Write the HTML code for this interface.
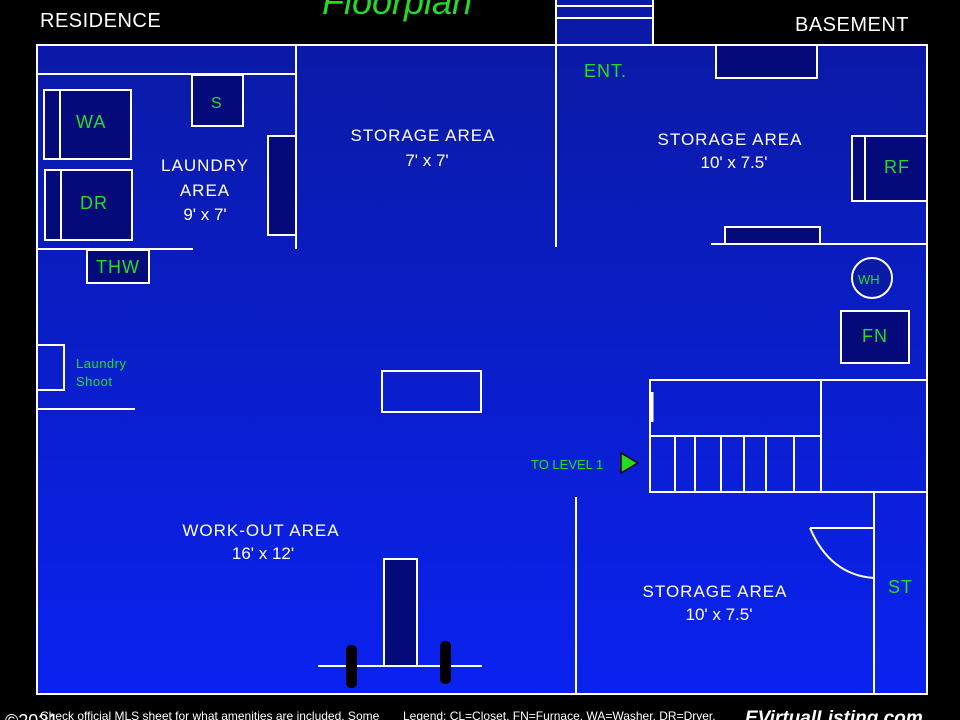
<!DOCTYPE html>
<html><head><meta charset="utf-8"><style>
html,body{margin:0;padding:0;background:#000;width:960px;height:720px;overflow:hidden}
svg{display:block}
text{font-family:"Liberation Sans",sans-serif}
</style></head><body>
<svg width="960" height="720" viewBox="0 0 960 720" xmlns="http://www.w3.org/2000/svg">
<defs>
<linearGradient id="g" x1="0" y1="0" x2="0" y2="1">
<stop offset="0" stop-color="#0a1aa6"/><stop offset="1" stop-color="#0a22f0"/>
</linearGradient>
</defs>
<rect x="0" y="0" width="960" height="720" fill="#000"/>
<rect x="37" y="45" width="890" height="649" fill="url(#g)" stroke="#fff" stroke-width="2"/>
<rect x="556" y="-2" width="97" height="47" fill="#0a1aa6" stroke="#fff" stroke-width="2"/>
<line x1="556" y1="6" x2="653" y2="6" stroke="#fff" stroke-width="2"/>
<line x1="556" y1="18" x2="653" y2="18" stroke="#fff" stroke-width="2"/>
<text x="40" y="27" fill="#fff" font-size="20" letter-spacing="0.5">RESIDENCE</text>
<text x="795" y="31" fill="#fff" font-size="20" letter-spacing="0.5">BASEMENT</text>
<text x="322" y="14" fill="#22dd22" font-size="36" font-style="italic" font-family="Liberation Serif,serif">Floorplan</text>
<g stroke="#fff" stroke-width="2" fill="none">
<line x1="37" y1="74" x2="296" y2="74"/>
<line x1="296" y1="45" x2="296" y2="249"/>
<line x1="556" y1="45" x2="556" y2="247"/>
<line x1="37" y1="249" x2="193" y2="249"/>
<line x1="711" y1="244" x2="927" y2="244"/>
<line x1="37" y1="409" x2="135" y2="409"/>
<line x1="576" y1="497" x2="576" y2="694"/>
<line x1="874" y1="492" x2="874" y2="694"/>
<line x1="810" y1="528" x2="874" y2="528"/>
<path d="M810 528 Q830 575 874 578"/>
</g>
<g stroke="#fff" stroke-width="2" fill="#050a7a">
<rect x="716" y="45" width="101" height="33"/>
<rect x="192" y="75" width="51" height="51"/>
<rect x="44" y="90" width="87" height="69"/>
<rect x="45" y="170" width="87" height="70"/>
<rect x="268" y="136" width="28" height="99"/>
<rect x="87" y="250" width="62" height="33"/>
<rect x="852" y="136" width="75" height="65"/>
<rect x="725" y="227" width="95" height="17"/>
<rect x="841" y="311" width="68" height="52"/>
<rect x="384" y="559" width="33" height="107"/>
</g>
<g stroke="#fff" stroke-width="2" fill="none">
<line x1="60" y1="90" x2="60" y2="159"/>
<line x1="61" y1="170" x2="61" y2="240"/>
<line x1="865" y1="136" x2="865" y2="201"/>
<circle cx="872" cy="278" r="20" fill="#0a1aa6"/>
<rect x="37" y="345" width="27" height="45"/>
<rect x="382" y="371" width="99" height="41"/>
<rect x="650" y="380" width="277" height="112"/>
<line x1="821" y1="380" x2="821" y2="492"/>
<line x1="650" y1="436" x2="821" y2="436"/>
<line x1="675" y1="436" x2="675" y2="492"/>
<line x1="695" y1="436" x2="695" y2="492"/>
<line x1="721" y1="436" x2="721" y2="492"/>
<line x1="744" y1="436" x2="744" y2="492"/>
<line x1="766" y1="436" x2="766" y2="492"/>
<line x1="794" y1="436" x2="794" y2="492"/>
<line x1="318" y1="666" x2="482" y2="666"/>
</g>
<line x1="652" y1="392" x2="652" y2="422" stroke="#fff" stroke-width="3"/>
<rect x="346" y="645" width="11" height="43" rx="5" fill="#000"/>
<rect x="440" y="641" width="11" height="43" rx="5" fill="#000"/>
<polygon points="621,453 638,463 621,473" fill="#22dd22" stroke="#000" stroke-width="1.5"/>
<g fill="#22dd22" font-size="18" letter-spacing="1">
<text x="584" y="77">ENT.</text>
<text x="211" y="108" font-size="16">S</text>
<text x="76" y="128">WA</text>
<text x="80" y="209">DR</text>
<text x="96" y="273">THW</text>
<text x="884" y="173">RF</text>
<text x="858" y="284" font-size="13" letter-spacing="0">WH</text>
<text x="862" y="342">FN</text>
<text x="888" y="593">ST</text>
<text x="76" y="368" font-size="13" letter-spacing="0.5">Laundry</text>
<text x="76" y="386" font-size="13" letter-spacing="0.5">Shoot</text>
<text x="531" y="469" font-size="13" letter-spacing="0">TO LEVEL 1</text>
</g>
<g fill="#fff" font-size="17" text-anchor="middle" letter-spacing="1">
<text x="205" y="171">LAUNDRY</text>
<text x="205" y="196">AREA</text>
<text x="205" y="220" font-family="Liberation Serif,serif" letter-spacing="0">9' x 7'</text>
<text x="423" y="141">STORAGE AREA</text>
<text x="427" y="166" font-family="Liberation Serif,serif" letter-spacing="0">7' x 7'</text>
<text x="730" y="145">STORAGE AREA</text>
<text x="734" y="168" font-family="Liberation Serif,serif" letter-spacing="0">10' x 7.5'</text>
<text x="261" y="536">WORK-OUT AREA</text>
<text x="263" y="559" font-family="Liberation Serif,serif" letter-spacing="0">16' x 12'</text>
<text x="715" y="597">STORAGE AREA</text>
<text x="719" y="620" font-family="Liberation Serif,serif" letter-spacing="0">10' x 7.5'</text>
</g>
<text x="5" y="727" fill="#fff" font-size="18">©2021</text>
<text x="40" y="720" fill="#fff" font-size="12">Check official MLS sheet for what amenities are included. Some</text>
<text x="403" y="720" fill="#fff" font-size="12">Legend: CL=Closet, FN=Furnace, WA=Washer, DR=Dryer,</text>
<text x="745" y="724" fill="#fff" font-size="19" font-weight="bold" font-style="italic">EVirtualListing.com</text>
</svg>
</body></html>
